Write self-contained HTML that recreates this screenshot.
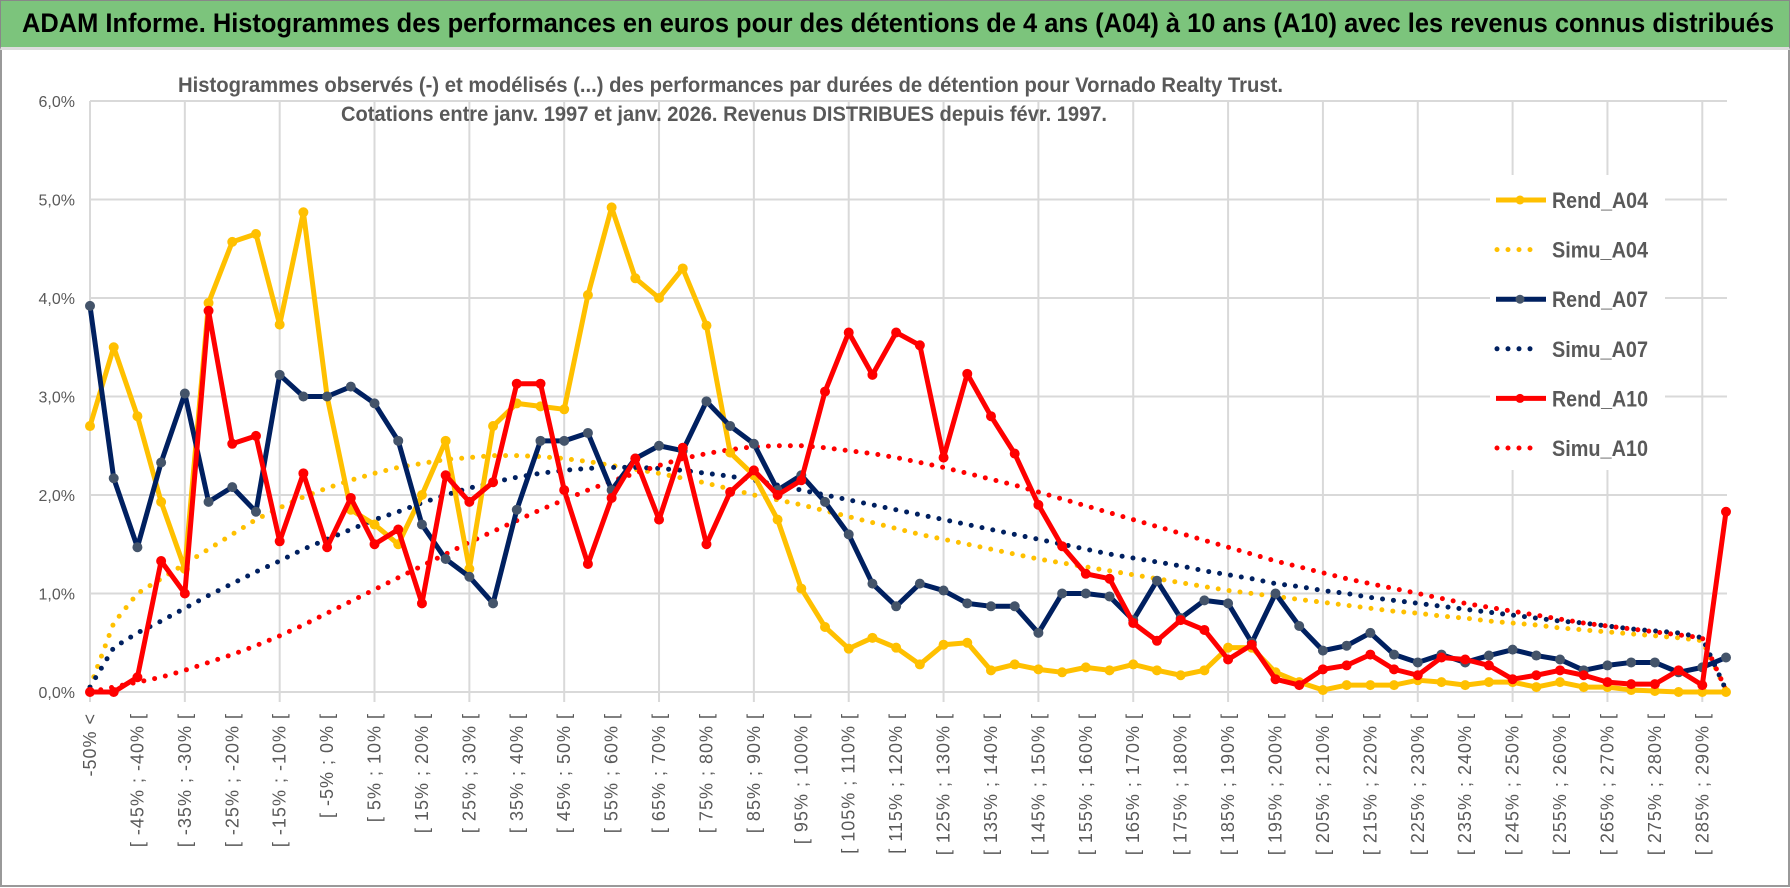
<!DOCTYPE html>
<html><head><meta charset="utf-8">
<style>
html,body{margin:0;padding:0;background:#fff;}
body{width:1790px;height:888px;position:relative;overflow:hidden;font-family:"Liberation Sans",sans-serif;}
#titlebar{position:absolute;left:0;top:0;width:1788px;height:46px;background:#7cc47c;border:1px solid #888;border-bottom:3px solid #ddd;}
#frame{position:absolute;left:0;top:50px;width:1786px;height:835px;border:2px solid #999;border-top:none;}
svg{position:absolute;left:0;top:0;}
</style></head><body>
<div id="titlebar"></div>
<div id="frame"></div>
<svg id="chart" width="1790" height="888"></svg>
<script>
const categories = (function(){const c=["-50% <"];for(let a=-50;a<295;a+=5){c.push("[ "+a+"% ; "+(a+5)+"% [");}return c.slice(0,70);})();
const yTicks = [0,1,2,3,4,5,6];
const yTickLabels = ["0,0%","1,0%","2,0%","3,0%","4,0%","5,0%","6,0%"];
const seriesNames = ["Rend_A04","Simu_A04","Rend_A07","Simu_A07","Rend_A10","Simu_A10"];
const rendA04 = [2.7,3.5,2.8,1.93,1.25,3.95,4.57,4.65,3.73,4.87,3.0,1.85,1.7,1.5,2.0,2.55,1.25,2.7,2.93,2.9,2.87,4.03,4.92,4.2,4.0,4.3,3.72,2.43,2.2,1.75,1.05,0.66,0.44,0.55,0.45,0.28,0.48,0.5,0.22,0.28,0.23,0.2,0.25,0.22,0.28,0.22,0.17,0.22,0.45,0.45,0.2,0.1,0.02,0.07,0.07,0.07,0.12,0.1,0.07,0.1,0.1,0.05,0.1,0.05,0.05,0.02,0.01,0.0,0.0,0.0];
const simuA04 = [0.05,0.7,1.0,1.15,1.3,1.45,1.6,1.75,1.87,1.98,2.07,2.15,2.22,2.28,2.32,2.36,2.38,2.4,2.4,2.39,2.37,2.34,2.3,2.26,2.22,2.17,2.12,2.06,2.0,1.95,1.9,1.84,1.78,1.72,1.66,1.6,1.55,1.5,1.45,1.4,1.35,1.31,1.27,1.23,1.19,1.15,1.11,1.07,1.03,1.0,0.97,0.94,0.91,0.88,0.85,0.82,0.8,0.77,0.75,0.72,0.7,0.68,0.65,0.63,0.61,0.59,0.57,0.55,0.52,0.02];
const rendA07 = [3.92,2.17,1.47,2.33,3.03,1.93,2.08,1.83,3.22,3.0,3.0,3.1,2.93,2.55,1.7,1.35,1.17,0.9,1.85,2.55,2.55,2.63,2.05,2.37,2.5,2.45,2.95,2.7,2.52,2.05,2.2,1.93,1.6,1.1,0.87,1.1,1.03,0.9,0.87,0.87,0.6,1.0,1.0,0.97,0.73,1.13,0.75,0.93,0.9,0.5,1.0,0.67,0.42,0.47,0.6,0.38,0.3,0.38,0.3,0.37,0.43,0.37,0.33,0.22,0.27,0.3,0.3,0.2,0.25,0.35];
const simuA07 = [0.05,0.45,0.6,0.72,0.85,0.98,1.1,1.22,1.33,1.45,1.55,1.65,1.75,1.83,1.92,2.0,2.07,2.13,2.18,2.22,2.25,2.27,2.28,2.28,2.27,2.25,2.22,2.19,2.15,2.1,2.05,2.0,1.95,1.9,1.85,1.8,1.75,1.7,1.65,1.6,1.55,1.5,1.45,1.4,1.36,1.32,1.28,1.23,1.19,1.15,1.1,1.07,1.03,1.0,0.96,0.93,0.9,0.87,0.84,0.81,0.78,0.75,0.72,0.7,0.67,0.64,0.62,0.6,0.55,0.02];
const rendA10 = [0.0,0.0,0.15,1.33,1.0,3.87,2.52,2.6,1.53,2.22,1.47,1.97,1.5,1.65,0.9,2.2,1.93,2.13,3.13,3.13,2.05,1.3,1.97,2.37,1.75,2.48,1.5,2.03,2.25,2.0,2.15,3.05,3.65,3.22,3.65,3.52,2.38,3.23,2.8,2.42,1.9,1.48,1.2,1.15,0.7,0.52,0.73,0.63,0.33,0.48,0.13,0.07,0.23,0.27,0.38,0.23,0.17,0.35,0.33,0.27,0.13,0.17,0.22,0.17,0.1,0.08,0.08,0.22,0.07,1.83];
const simuA10 = [0.0,0.05,0.1,0.15,0.22,0.3,0.38,0.47,0.57,0.68,0.8,0.92,1.04,1.16,1.28,1.4,1.52,1.63,1.74,1.85,1.95,2.05,2.14,2.22,2.3,2.37,2.42,2.46,2.49,2.5,2.5,2.48,2.45,2.42,2.38,2.33,2.28,2.22,2.16,2.1,2.03,1.96,1.89,1.82,1.75,1.68,1.61,1.54,1.47,1.4,1.33,1.27,1.21,1.15,1.1,1.05,1.0,0.95,0.9,0.86,0.82,0.78,0.74,0.7,0.67,0.64,0.61,0.58,0.55,0.02];

const NS="http://www.w3.org/2000/svg";
const svg=document.getElementById('chart');
const X0=90,X1=1726,Y0=692,Y6=101;
const FF='"Liberation Sans",sans-serif';
const xS=i=>X0+(X1-X0)*i/(categories.length-1);
const yS=v=>Y0+(Y6-Y0)*v/6;
function mk(t,a){const e=document.createElementNS(NS,t);for(const k in a)e.setAttribute(k,a[k]);svg.appendChild(e);return e;}

const bt=mk('text',{x:22,y:32,'font-size':27,'font-weight':'bold',fill:'#000','font-family':FF,textLength:1752,lengthAdjust:'spacingAndGlyphs'});
bt.textContent='ADAM Informe. Histogrammes des performances en euros pour des détentions de 4 ans (A04) à 10 ans (A10) avec les revenus connus distribués';



yTicks.forEach((v,k)=>{
  const g=mk('line',{x1:X0,x2:1727,y1:yS(v),y2:yS(v),stroke:'#d9d9d9','stroke-width':2});
  
  
  const t=mk('text',{x:75,y:yS(v)+6,'text-anchor':'end','font-size':16,fill:'#595959','font-family':FF});
  t.textContent=yTickLabels[k];
  
  
});
for(let i=0;i<categories.length;i+=4){
  const g=mk('line',{x1:xS(i),x2:xS(i),y1:Y6,y2:Y0+10,stroke:'#d9d9d9','stroke-width':2});
  
  
}
categories.forEach((c,i)=>{
  if(i%2)return;
  const x=xS(i)+6,y=713;
  const t=mk('text',{x:x,y:y,transform:`rotate(-90 ${x} ${y})`,'text-anchor':'end','font-size':18,'letter-spacing':1,fill:'#595959','font-family':FF});
  t.textContent=c;
  
  
});
const tt=mk('text',{x:178,y:92,'font-size':21,'font-weight':'bold',fill:'#595959','font-family':FF,textLength:1105,lengthAdjust:'spacingAndGlyphs'});
tt.textContent='Histogrammes observés (-) et modélisés (...) des performances par durées de détention pour Vornado Realty Trust.';


const tt2=mk('text',{x:341,y:121,'font-size':21,'font-weight':'bold',fill:'#595959','font-family':FF,textLength:766,lengthAdjust:'spacingAndGlyphs'});
tt2.textContent='Cotations entre janv. 1997 et janv. 2026. Revenus DISTRIBUES depuis févr. 1997.';



function dotted(data,color,name){
  const p=mk('polyline',{points:data.map((v,i)=>xS(i)+','+yS(v)).join(' '),fill:'none',stroke:color,'stroke-width':5,'stroke-linecap':'round','stroke-dasharray':'0 11'});
  
  
}
function solid(data,color,mfill,name){
  const p=mk('polyline',{points:data.map((v,i)=>xS(i)+','+yS(v)).join(' '),fill:'none',stroke:color,'stroke-width':5,'stroke-linejoin':'round'});
  
  
  data.forEach((v,i)=>{
    const c=mk('circle',{cx:xS(i),cy:yS(v),r:4.5,fill:mfill,stroke:mfill});
    
    
  });
}
dotted(simuA04,'#FFC000','simu-a04-line');
dotted(simuA07,'#002060','simu-a07-line');
dotted(simuA10,'#FF0000','simu-a10-line');
solid(rendA04,'#FFC000','#FFC000','rend-a04-line');
solid(rendA07,'#002060','#44546A','rend-a07-line');
solid(rendA10,'#FF0000','#FF0000','rend-a10-line');

const lg=mk('rect',{x:1490,y:175,width:175,height:295,fill:'#fff'});


const lcol=['#FFC000','#FFC000','#002060','#002060','#FF0000','#FF0000'];
const lmk=['#FFC000',null,'#44546A',null,'#FF0000',null];
seriesNames.forEach((n,k)=>{
  const y=200+k*49.6;
  if(lmk[k]){
    const l=mk('line',{x1:1496,x2:1546,y1:y,y2:y,stroke:lcol[k],'stroke-width':5});
    
    
    const c=mk('circle',{cx:1520,cy:y,r:4.5,fill:lmk[k]});
    
    
  }else{
    const l=mk('line',{x1:1497,x2:1540,y1:y,y2:y,stroke:lcol[k],'stroke-width':5,'stroke-linecap':'round','stroke-dasharray':'0 11'});
    
    
  }
  const t=mk('text',{x:1552,y:y+8,'font-size':22,'font-weight':'bold',fill:'#595959','font-family':FF,textLength:96,lengthAdjust:'spacingAndGlyphs'});
  t.textContent=n;
  
  
});
</script>
</body></html>
